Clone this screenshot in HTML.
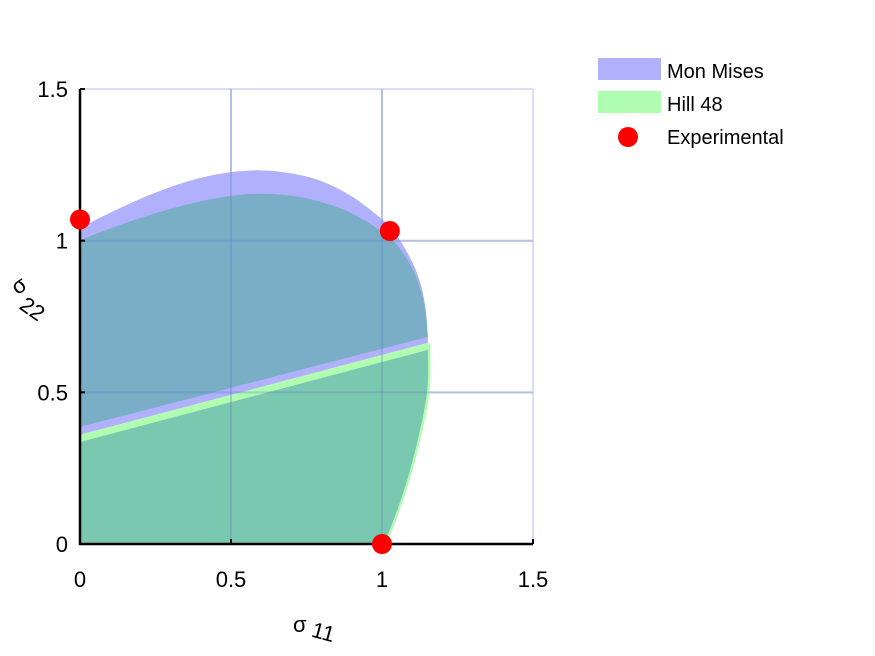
<!DOCTYPE html>
<html><head><meta charset="utf-8"><style>
body{margin:0;background:#fff}
svg{display:block;font-family:"Liberation Sans",sans-serif}
</style></head><body>
<svg id="c" width="875" height="656" viewBox="0 0 875 656">
<g id="grid"></g>
<g id="fills"></g>
<g id="axes"></g>
<g id="dots"></g>
<g>
<rect x="598" y="58" width="63" height="22" fill="#b0b0fc"/>
<text x="667" y="78" font-size="20">Mon Mises</text>
<rect x="598" y="91" width="63" height="22" fill="#b0fcb0"/>
<text x="667" y="111" font-size="20">Hill 48</text>
<circle cx="628" cy="137" r="10" fill="#ff0000"/>
<text x="667" y="144" font-size="20">Experimental</text>
</g>
<g>
<text x="293" y="632" font-size="22">σ</text>
<text x="312" y="640" font-size="22" transform="rotate(15 325 632)">11</text>
</g>
<g>
<text x="12" y="292" font-size="22" transform="rotate(-35 20 285)">σ</text>
<text x="20" y="318" font-size="22" transform="rotate(35 35 310)">22</text>
</g>
</svg>
<script>
const ticks=[0,0.5,1,1.5];
const tickLabels=["0","0.5","1","1.5"];
const misesTopX=[0,0.1,0.2,0.3,0.4,0.5,0.6,0.7,0.8,0.9,1.0,1.05,1.1,1.13,1.145,1.152];
const misesTopY=[1.042,1.092,1.138,1.177,1.207,1.226,1.232,1.222,1.196,1.146,1.07,1.015,0.93,0.85,0.77,0.683];
const hillTopX=[0,0.1,0.2,0.3,0.4,0.5,0.6,0.7,0.8,0.9,1.0,1.05,1.1,1.13,1.145,1.152];
const hillTopY=[1.002,1.04,1.075,1.105,1.13,1.148,1.155,1.148,1.127,1.09,1.03,0.985,0.91,0.83,0.76,0.683];
const misesLineY=[0.386,0.683];
const midLineY=[0.36,0.663];
const hillLineY=[0.336,0.64];
const hillRightX=[1.16,1.157,1.124,1.078,1.024,1.0];
const hillRightY=[0.66,0.5,0.333,0.168,0.023,0.0];
const innerRightX=[1.152,1.149,1.116,1.07,1.016,1.0];
const innerRightY=[0.64,0.5,0.333,0.168,0.023,0.0];
const expX=[0,1.026,1];
const expY=[1.07,1.032,0];
const lineXEnd=1.152;
const X=v=>80+v*302, Y=v=>544-v*303.3;
const NS="http://www.w3.org/2000/svg";
function mk(parent,tag,attrs){const e=document.createElementNS(NS,tag);for(const k in attrs)e.setAttribute(k,attrs[k]);document.getElementById(parent).appendChild(e);return e;}
function smooth(xs,ys){let d="";const p=xs.map((x,i)=>[X(x),Y(ys[i])]);
 d+=`L${p[0][0]},${p[0][1]}`;
 for(let i=0;i<p.length-1;i++){const p0=p[i-1]||p[i],p1=p[i],p2=p[i+1],p3=p[i+2]||p2;
  const c1=[p1[0]+(p2[0]-p0[0])/6,p1[1]+(p2[1]-p0[1])/6],c2=[p2[0]-(p3[0]-p1[0])/6,p2[1]-(p3[1]-p1[1])/6];
  d+=`C${c1[0]},${c1[1]} ${c2[0]},${c2[1]} ${p2[0]},${p2[1]}`;}
 return d;}
ticks.forEach(t=>{if(t===0)return;
 let g=mk('grid','line',{x1:X(t),x2:X(t),y1:Y(0),y2:Y(1.5),stroke:'#dcdcfa','stroke-width':2});
 
 g=mk('grid','line',{x1:X(0),x2:X(1.5),y1:Y(t),y2:Y(t),stroke:'#dcdcfa','stroke-width':2});
 });
let e;
e=mk('fills','path',{d:'M'+smooth(misesTopX,misesTopY).slice(1)+`L${X(lineXEnd)},${Y(midLineY[1])}L${X(0)},${Y(midLineY[0])}Z`,fill:'#b0b0fc'});

e=mk('fills','path',{d:'M'+smooth(hillTopX,hillTopY).slice(1)+`L${X(lineXEnd)},${Y(misesLineY[1])}L${X(0)},${Y(misesLineY[0])}Z`,fill:'#7aaec6'});

e=mk('fills','path',{d:`M${X(0)},${Y(midLineY[0])}L${X(lineXEnd)},${Y(midLineY[1])}`+smooth(hillRightX,hillRightY)+`L${X(0)},${Y(0)}Z`,fill:'#b0fcb0'});

e=mk('fills','path',{d:`M${X(0)},${Y(hillLineY[0])}L${X(lineXEnd)},${Y(hillLineY[1])}`+smooth(innerRightX,innerRightY)+`L${X(0)},${Y(0)}Z`,fill:'#7bc8b0'});

ticks.forEach(t=>{if(t===0||t===1.5)return;
 let g=mk('fills','line',{x1:X(t),x2:X(t),y1:Y(0),y2:Y(1.5),stroke:'#5a7ec0','stroke-opacity':0.3,'stroke-width':2});
 
 g=mk('fills','line',{x1:X(0),x2:X(1.5),y1:Y(t),y2:Y(t),stroke:'#5a7ec0','stroke-opacity':0.3,'stroke-width':2});
 });
e=mk('axes','line',{x1:X(0),x2:X(0),y1:Y(0)+1,y2:Y(1.5),stroke:'#000','stroke-width':2.5});

e=mk('axes','line',{x1:X(0)-1,x2:X(1.5),y1:Y(0),y2:Y(0),stroke:'#000','stroke-width':2.5});

ticks.forEach((t,i)=>{
 let l=mk('axes','text',{x:X(t),y:587,'font-size':22,'text-anchor':'middle'});l.textContent=tickLabels[i];
 
 l=mk('axes','text',{x:68,y:Y(t)+8,'font-size':22,'text-anchor':'end'});l.textContent=tickLabels[i];
 
 let k=mk('axes','line',{x1:X(t),x2:X(t),y1:Y(0),y2:Y(0)-5,stroke:'#000','stroke-width':2});
 
 k=mk('axes','line',{x1:X(0),x2:X(0)+5,y1:Y(t),y2:Y(t),stroke:'#000','stroke-width':2});
 });
expX.forEach((x,i)=>{const c=mk('dots','circle',{cx:X(x),cy:Y(expY[i]),r:10,fill:'#ff0000'});
 });
</script>
</body></html>
